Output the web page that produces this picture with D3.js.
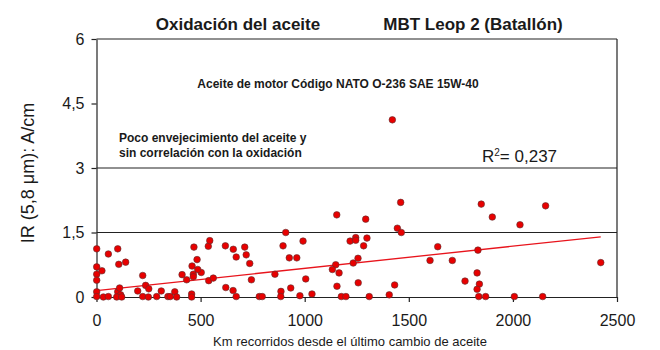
<!DOCTYPE html>
<html>
<head>
<meta charset="utf-8">
<script src="https://cdn.jsdelivr.net/npm/d3@7"></script>
<style>
  body { margin: 0; background: #fff; }
  text { font-family: "Liberation Sans", Arial, sans-serif; fill: #1a1a1a; }
  .axis path, .axis line { stroke: #222; stroke-width: 1.2; }
  .axis text { font-size: 16px; fill: #1a1a1a; }
</style>
</head>
<body>
<svg id="chart"></svg>
<script>
// km since last oil change
const km = [1, 1, 1, 1, 1, 1, 26, 57, 102, 107, 140, 33, 57, 102, 111, 116, 97, 121,
  198, 222, 236, 251, 222, 249, 289, 311, 343, 354, 376, 385, 411, 433, 457, 457,
  459, 465, 465, 468, 483, 503, 486, 537, 544, 539, 561, 619, 657, 671, 712, 719,
  736, 744, 621, 656, 671, 782, 796, 857, 886, 885, 933, 926, 962, 896, 909, 977,
  1005, 992, 1035, 1154, 1149, 1133, 1165, 1155, 1176, 1198, 1218, 1245, 1245, 1233,
  1256, 1257, 1283, 1293, 1299, 1310, 1406, 1432, 1445, 1464, 1461, 1421, 1639, 1602,
  1709, 1832, 1828, 1770, 1839, 1828, 1836, 1869, 2007, 1848, 1901, 2034, 2157, 2143, 2422];
// IR (5,8 um) A/cm
const ir = [1.12, 0.70, 0.53, 0.39, 0.12, 0.01, 0.61, 1.00, 1.12, 0.76, 0.81, 0.00, 0.01, 0.12, 0.21, 0.05, 0.00, 0.00,
  0.14, 0.50, 0.27, 0.19, 0.01, 0.00, 0.01, 0.14, 0.01, 0.01, 0.12, 0.00, 0.52, 0.40, 0.07, 0.00,
  0.72, 0.53, 0.47, 1.16, 0.87, 0.57, 0.64, 1.18, 1.31, 0.38, 0.44, 1.19, 1.11, 0.93, 1.16, 0.98,
  0.78, 0.40, 0.22, 0.15, 0.01, 0.01, 0.01, 0.53, 0.13, 0.01, 0.21, 0.91, 0.91, 1.19, 1.50, 0.03,
  0.42, 1.30, 0.07, 1.91, 0.75, 0.64, 0.56, 0.25, 0.01, 0.01, 1.30, 1.38, 1.32, 0.79,
  0.90, 0.33, 1.19, 1.81, 1.37, 0.01, 0.05, 0.28, 1.60, 1.50, 2.20, 4.12, 1.17, 0.85,
  0.85, 1.09, 0.56, 0.37, 0.30, 0.18, 0.01, 0.01, 0.01, 2.16, 1.86, 1.68, 2.12, 0.01, 0.80];

const xTicks = [0, 500, 1000, 1500, 2000, 2500];
const yTicks = [0, 1.5, 3, 4.5, 6];
const yTickLabels = ['0', '1,5', '3', '4,5', '6'];
const refLines = [1.5, 3];
// linear trend
const trendKm = [0, 2422];
const trendIr = [0.15, 1.40];

const width = 660, height = 350;
const margin = { top: 39, right: 43, bottom: 53, left: 96.5 };

const svg = d3.select('#chart')
    .attr('width', width)
    .attr('height', height);

const x = d3.scaleLinear().domain([0, 2500]).range([margin.left, width - margin.right]);
const y = d3.scaleLinear().domain([0, 6]).range([height - margin.bottom, margin.top]);

// reference lines and frame
svg.selectAll('.ref')
    .data(refLines.concat([6]))
    .enter().append('line')
    .attr('x1', x(0)).attr('x2', x(2500))
    .attr('y1', d => y(d)).attr('y2', d => y(d))
    .attr('stroke', '#222').attr('stroke-width', 1.2);

svg.append('line')
    .attr('x1', x(2500)).attr('x2', x(2500))
    .attr('y1', y(6)).attr('y2', y(0))
    .attr('stroke', '#222').attr('stroke-width', 1.2);

// axes
svg.append('g')
    .attr('class', 'axis')
    .attr('transform', `translate(0,${y(0)})`)
    .call(d3.axisBottom(x).tickValues(xTicks).tickSize(5).tickPadding(10).tickSizeOuter(0)
        .tickFormat(d3.format('d')))
    .call(g => g.selectAll('text').attr('dy', '0.9em'));

svg.append('g')
    .attr('class', 'axis')
    .attr('transform', `translate(${x(0)},0)`)
    .call(d3.axisLeft(y).tickValues(yTicks).tickSize(5).tickPadding(7).tickSizeOuter(0)
        .tickFormat((d, i) => yTickLabels[i]));

// trend line
svg.append('line')
    .attr('x1', x(trendKm[0])).attr('y1', y(trendIr[0]))
    .attr('x2', x(trendKm[1])).attr('y2', y(trendIr[1]))
    .attr('stroke', '#e8141c').attr('stroke-width', 1.3);

// points
svg.selectAll('.point')
    .data(km.map((d, i) => ({ km: d, ir: ir[i] })))
    .enter().append('circle')
    .attr('class', 'point')
    .attr('cx', d => x(d.km))
    .attr('cy', d => y(d.ir))
    .attr('r', 3.3)
    .attr('fill', '#e80000')
    .attr('stroke', '#5a3030')
    .attr('stroke-width', 0.6);

// titles
svg.append('text')
    .attr('x', 238).attr('y', 30)
    .attr('text-anchor', 'middle')
    .style('font-size', '17px').style('font-weight', 'bold')
    .text('Oxidación del aceite');

svg.append('text')
    .attr('x', 473).attr('y', 30)
    .attr('text-anchor', 'middle')
    .style('font-size', '17px').style('font-weight', 'bold')
    .text('MBT Leop 2 (Batallón)');

svg.append('text')
    .attr('x', 338).attr('y', 88)
    .attr('text-anchor', 'middle')
    .style('font-size', '12px').style('font-weight', 'bold')
    .text('Aceite de motor Código NATO O-236 SAE 15W-40');

svg.append('text')
    .attr('x', 119).attr('y', 142)
    .style('font-size', '12px').style('font-weight', 'bold')
    .text('Poco envejecimiento del aceite y');

svg.append('text')
    .attr('x', 119).attr('y', 157)
    .style('font-size', '12px').style('font-weight', 'bold')
    .text('sin correlación con la oxidación');

const r2 = svg.append('text')
    .attr('x', 482).attr('y', 162)
    .style('font-size', '17px');
r2.append('tspan').text('R');
r2.append('tspan').attr('dy', -6).style('font-size', '10px').text('2');
r2.append('tspan').attr('dy', 6).text('= 0,237');

// axis titles
svg.append('text')
    .attr('transform', 'translate(34,173) rotate(-90)')
    .attr('text-anchor', 'middle')
    .style('font-size', '18px')
    .text('IR (5,8 μm): A/cm');

svg.append('text')
    .attr('x', 350).attr('y', 346)
    .attr('text-anchor', 'middle')
    .style('font-size', '13px')
    .text('Km recorridos desde el último cambio de aceite');
</script>
</body>
</html>
